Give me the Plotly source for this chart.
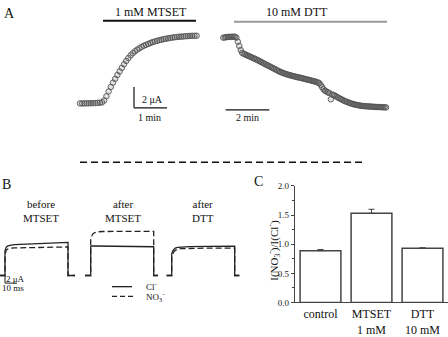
import plotly.graph_objects as go

W, H = 448, 337

# ---------------- data ----------------
# Panel A: current (uA) recorded every 4 s
SAMPLE_MIN = 4 / 60
mtset_current = [1.00, 1.00, 1.00, 1.01, 1.01, 1.02, 1.03, 1.03, 1.05, 1.06,
                 1.10, 1.28, 1.68, 2.14, 2.57, 2.98, 3.34, 3.71, 4.05, 4.39,
                 4.74, 5.05, 5.33, 5.59, 5.79, 5.97, 6.13, 6.26, 6.39, 6.50,
                 6.59, 6.68, 6.76, 6.85, 6.91, 6.97, 7.03, 7.08, 7.13, 7.17,
                 7.21, 7.25, 7.28, 7.31, 7.34, 7.36, 7.37, 7.39, 7.41, 7.42,
                 7.44, 7.45, 7.45, 7.46]
dtt_current = [7.27, 7.30, 7.32, 7.34, 7.35, 7.35, 7.36, 7.36, 7.36, 7.28,
               6.89, 6.48, 6.09, 5.82, 5.74, 5.67, 5.62, 5.55, 5.49, 5.43,
               5.36, 5.30, 5.24, 5.17, 5.10, 5.03, 4.95, 4.88, 4.81, 4.74,
               4.66, 4.60, 4.53, 4.45, 4.38, 4.31, 4.24, 4.16, 4.09, 4.03,
               3.96, 3.91, 3.85, 3.81, 3.76, 3.72, 3.68, 3.65, 3.61, 3.57,
               3.54, 3.50, 3.47, 3.45, 3.41, 3.37, 3.34, 3.30, 3.27, 3.24,
               3.20, 3.16, 3.13, 3.09, 3.05, 3.00, 2.94, 2.77, 2.54, 2.34,
               2.21, 2.13, 2.05, 1.98, 1.39, 1.85, 1.79, 1.72, 1.64, 1.55,
               1.48, 1.41, 1.34, 1.26, 1.20, 1.15, 1.09, 1.04, 0.99, 0.95,
               0.91, 0.87, 0.85, 0.82, 0.79, 0.77, 0.75, 0.74, 0.73, 0.72,
               0.71, 0.70, 0.69, 0.68, 0.67, 0.66, 0.65, 0.65, 0.65, 0.64,
               0.63, 0.63, 0.62]
mtset_time = [i * SAMPLE_MIN for i in range(len(mtset_current))]
dtt_time = [i * SAMPLE_MIN for i in range(len(dtt_current))]

# Panel B: current sweeps (time ms, current uA)
b_titles = ["before<br>MTSET", "after<br>MTSET", "after<br>DTT"]
s1_cl_t = [-4.2, 0, 0, 0.5, 1.0, 2.0, 3.0, 5.0, 8.0, 15, 25, 40, 52.5, 52.5, 58.3]
s1_cl_i = [0, 0, 6.5, 7.1, 7.4, 7.7, 7.85, 8.0, 8.1, 8.2, 8.3, 8.5, 8.7, 0, 0]
s1_no3_t = [-4.2, 0, 0, 0.5, 1.0, 2.0, 3.0, 5.0, 8.0, 15, 25, 40, 52.5, 52.5, 58.3]
s1_no3_i = [0, 0, 5.5, 6.2, 6.6, 6.9, 7.05, 7.2, 7.25, 7.3, 7.35, 7.45, 7.5, 0, 0]
s2_cl_t = [-4.75, 0, 0, 0.5, 2, 10, 30, 52.5, 52.5, 56]
s2_cl_i = [0, 0, 7.6, 7.75, 7.75, 7.7, 7.65, 7.55, 0, 0]
s2_no3_t = [-4.75, 0, 0, 0.5, 1.5, 3, 5, 10, 30, 52.5, 52.5, 56]
s2_no3_i = [0, 0, 9.5, 10.2, 10.8, 11.2, 11.45, 11.55, 11.6, 11.6, 0, 0]
s3_cl_t = [-4.2, 0, 0, 0.8, 2, 3, 5, 8, 15, 30, 52.5, 52.5, 56.5]
s3_cl_i = [0, 0, 5.6, 6.4, 6.9, 7.2, 7.4, 7.5, 7.6, 7.65, 7.7, 0, 0]
s3_no3_t = [-4.2, 0, 0, 0.8, 2, 3, 5, 8, 15, 30, 52.5, 52.5, 56.5]
s3_no3_i = [0, 0, 5.3, 5.8, 6.3, 6.6, 6.9, 7.05, 7.15, 7.2, 7.2, 0, 0]

# Panel C: ratio bars
c_categories = ["control", "MTSET<br>1 mM", "DTT<br>10 mM"]
c_values = [0.89, 1.53, 0.93]
c_errors = [0.02, 0.07, 0.01]
c_yticks = [0.0, 0.5, 1.0, 1.5, 2.0]

# ---------------- layout helpers ----------------
def xdom(a, b):
    return [a / W, b / W]

def ydom(top, bot):
    return [1 - bot / H, 1 - top / H]

def xrng(a, b, px0, k):
    return [(a - px0) / k, (b - px0) / k]

def yrng(top, bot, py0, k):
    return [(py0 - bot) / k, (py0 - top) / k]

def px(x):
    return x / W

def py(y):
    return 1 - y / H

SERIF = "Liberation Serif, Times New Roman, serif"
TRACE = "#222222"

fig = go.Figure()

marker = dict(symbol="circle", size=5.5, color="rgba(80,80,80,0.16)",
              line=dict(color="#555555", width=0.9))
fig.add_trace(go.Scatter(x=mtset_time, y=mtset_current, mode="markers",
                         marker=marker, xaxis="x", yaxis="y", showlegend=False))
fig.add_trace(go.Scatter(x=dtt_time, y=dtt_current, mode="markers",
                         marker=marker, xaxis="x2", yaxis="y2", showlegend=False))

sweeps = [("x3", s1_cl_t, s1_cl_i, s1_no3_t, s1_no3_i),
          ("x4", s2_cl_t, s2_cl_i, s2_no3_t, s2_no3_i),
          ("x5", s3_cl_t, s3_cl_i, s3_no3_t, s3_no3_i)]
for xa, ct, ci, nt, ni in sweeps:
    fig.add_trace(go.Scatter(x=nt, y=ni, mode="lines", xaxis=xa, yaxis="y3",
                             line=dict(color=TRACE, width=1.3, dash="6px,3px"),
                             showlegend=False))
    fig.add_trace(go.Scatter(x=ct, y=ci, mode="lines", xaxis=xa, yaxis="y3",
                             line=dict(color=TRACE, width=1.3), showlegend=False))

fig.add_trace(go.Bar(x=c_categories, y=c_values, xaxis="x6", yaxis="y6",
                     marker=dict(color="white", line=dict(color="#444", width=1.5)),
                     error_y=dict(type="data", symmetric=False, array=c_errors,
                                  arrayminus=[0, 0, 0], color="#444",
                                  thickness=1, width=3),
                     showlegend=False))

hidden = dict(visible=False, showgrid=False, zeroline=False, fixedrange=True)

# A geometry: px = x0 + k*t ; py = y0 - k*I
A_Y = dict(top=20, bot=118, py0=114.3, k=11)
layout = dict(
    width=W, height=H, margin=dict(l=0, r=0, t=0, b=0),
    paper_bgcolor="white", plot_bgcolor="rgba(0,0,0,0)",
    font=dict(family=SERIF, color="#111"),
    bargap=0.2,
    xaxis=dict(hidden, domain=xdom(70, 212), range=xrng(70, 212, 80, 33), anchor="y"),
    yaxis=dict(hidden, domain=ydom(A_Y["top"], A_Y["bot"]),
               range=yrng(A_Y["top"], A_Y["bot"], A_Y["py0"], A_Y["k"]), anchor="x"),
    xaxis2=dict(hidden, domain=xdom(215, 395), range=xrng(215, 395, 223.3, 21.8), anchor="y2"),
    yaxis2=dict(hidden, domain=ydom(A_Y["top"], A_Y["bot"]),
                range=yrng(A_Y["top"], A_Y["bot"], A_Y["py0"], A_Y["k"]), anchor="x2"),
    xaxis3=dict(hidden, domain=xdom(0, 80), range=xrng(0, 80, 5, 1.2), anchor="y3"),
    xaxis4=dict(hidden, domain=xdom(84, 162), range=xrng(84, 162, 90.7, 1.2), anchor="y3"),
    xaxis5=dict(hidden, domain=xdom(164, 242), range=xrng(164, 242, 171.7, 1.2), anchor="y3"),
    yaxis3=dict(hidden, domain=ydom(232, 300), range=yrng(232, 300, 284, 4), anchor="x3"),
    xaxis6=dict(domain=xdom(295, 448), range=[-0.5, 2.5], anchor="y6",
                showline=True, linecolor="#444", linewidth=1.2, ticks="",
                showgrid=False, zeroline=False, fixedrange=True,
                tickfont=dict(family=SERIF, size=12, color="#111")),
    yaxis6=dict(domain=ydom(190, 312.3), range=[0, 2.0], anchor="x6",
                showline=True, linecolor="#444", linewidth=1.2,
                tickvals=c_yticks, ticktext=[f"{v:.1f}" for v in c_yticks],
                ticks="outside", ticklen=3, tickcolor="#444",
                minor=dict(dtick=0.25, ticks="outside", ticklen=2, tickcolor="#444"),
                showgrid=False, zeroline=False, fixedrange=True,
                tickfont=dict(family=SERIF, size=9, color="#222")),
)

shapes = []
# treatment bars (paper)
shapes.append(dict(type="line", xref="paper", yref="paper", x0=px(103), x1=px(196),
                   y0=py(16.5), y1=py(16.5), line=dict(color="#111", width=2)))
shapes.append(dict(type="line", xref="paper", yref="paper", x0=px(234), x1=px(387),
                   y0=py(17.5), y1=py(17.5), line=dict(color="#9a9a9a", width=2)))
# A scale bars (data units of the axes)
sb_t, sb_i = 1.636, 0.573
shapes.append(dict(type="line", xref="x", yref="y", x0=sb_t, x1=sb_t, y0=sb_i, y1=sb_i + 2,
                   line=dict(color="#111", width=1.2)))
shapes.append(dict(type="line", xref="x", yref="y", x0=sb_t, x1=sb_t + 1, y0=sb_i, y1=sb_i,
                   line=dict(color="#111", width=1.2)))
shapes.append(dict(type="line", xref="x2", yref="y2", x0=0.11, x1=2.11, y0=0.39, y1=0.39,
                   line=dict(color="#111", width=1.2)))
# separator dashed line
shapes.append(dict(type="line", xref="paper", yref="paper", x0=px(80), x1=px(365),
                   y0=py(165), y1=py(165), line=dict(color="#111", width=1.5, dash="7px,4px")))
# B scale bar
shapes.append(dict(type="line", xref="x3", yref="y3", x0=0, x1=0, y0=-2, y1=0,
                   line=dict(color="#222", width=1)))
shapes.append(dict(type="line", xref="x3", yref="y3", x0=0, x1=10, y0=-2, y1=-2,
                   line=dict(color="#222", width=1)))
# B legend keys
shapes.append(dict(type="line", xref="paper", yref="paper", x0=px(112), x1=px(132),
                   y0=py(295.7), y1=py(295.7), line=dict(color=TRACE, width=1.3)))
shapes.append(dict(type="line", xref="paper", yref="paper", x0=px(112), x1=px(133),
                   y0=py(306), y1=py(306), line=dict(color=TRACE, width=1.3, dash="5px,3px")))
layout["shapes"] = shapes

def ann(text, x, y, size, xanchor="center", angle=0):
    return dict(text=text, xref="paper", yref="paper", x=px(x), y=py(y),
                xanchor=xanchor, yanchor="middle", showarrow=False, textangle=angle,
                font=dict(family=SERIF, size=size, color="#111"))

annots = [
    ann("A", 9, 9, 14),
    ann("1 mM MTSET", 150.5, 7.5, 12),
    ann("10 mM DTT", 296.7, 7.5, 12),
    ann("2 μA", 152, 99, 10),
    ann("1 min", 149.5, 118, 10),
    ann("2 min", 247, 118.5, 10),
    ann("B", 6, 188, 14),
    ann(b_titles[0], 41, 216.5, 11),
    ann(b_titles[1], 123, 216.5, 11),
    ann(b_titles[2], 202.5, 216.5, 11),
    ann("2 μA", 15, 288, 9),
    ann("10 ms", 13.3, 297.5, 9),
    ann("Cl<sup>-</sup>", 143.5, 294.5, 9, xanchor="left"),
    ann("NO<sub>3</sub><sup>-</sup>", 143.5, 306.5, 9, xanchor="left"),
    ann("C", 258, 185, 14),
    ann("I(NO<sub>3</sub><sup>-</sup>)/I(Cl<sup>-</sup>)", 274, 258, 11, angle=-90),
]
layout["annotations"] = annots

fig.update_layout(**layout)
fig.write_html("out.html")
